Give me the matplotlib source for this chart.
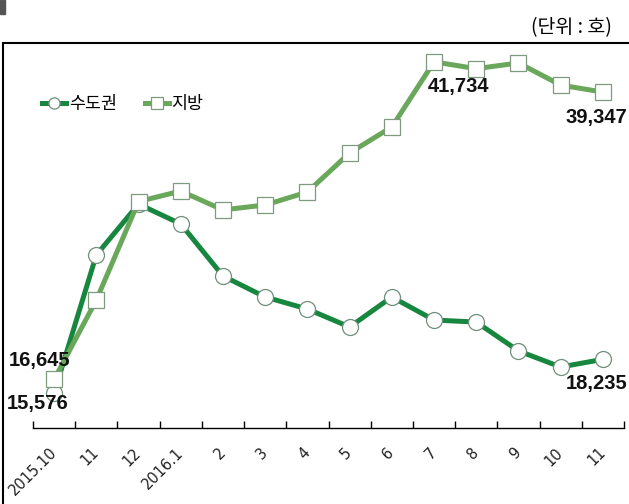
import matplotlib
matplotlib.use("Agg")
import matplotlib.pyplot as plt
from matplotlib.patches import Rectangle
from matplotlib.ticker import FixedLocator

plt.rcParams['font.family'] = ['Noto Sans CJK KR', 'DejaVu Sans']

months = ["2015.10", "11", "12", "2016.1", "2", "3", "4", "5", "6", "7", "8", "9", "10", "11"]
metro = [15576, 26480, 30500, 28930, 24820, 23160, 22210, 20790, 23160, 21340, 21180, 18900, 17630, 18235]
local = [16645, 22920, 30700, 31530, 30040, 30430, 31450, 34540, 36590, 41734, 41200, 41650, 39900, 39347]

x = list(range(len(months)))

fig = plt.figure(figsize=(6.29, 5.04), dpi=100)
ax = fig.add_axes([33/629, 76/504, 591/629, 385/504])

dark = "#17873f"
light = "#69a85a"

ax.plot(x, metro, color=dark, lw=3.6, marker="o", ms=11.5, mfc="white",
        mec="#6f8f7a", mew=0.9, label="수도권", zorder=3)
ax.plot(x, local, color=light, lw=3.6, marker="s", ms=11.5, mfc="white",
        mec="#7f9a7f", mew=0.9, label="지방", zorder=4)

ax.set_xlim(-0.5, 13.5)
ax.set_ylim(12811, 43226)

for s in ["left", "right", "top"]:
    ax.spines[s].set_visible(False)
ax.spines["bottom"].set_linewidth(1.0)
ax.set_yticks([])

ax.set_xticks(x)
ax.set_xticklabels(months, rotation=45, ha="right", va="center",
                   rotation_mode="anchor", fontsize=10.5, family="DejaVu Sans",
                   color="#222222")
ax.tick_params(axis="x", which="major", length=0, pad=16)
ax.xaxis.set_minor_locator(FixedLocator([i - 0.5 for i in range(len(months) + 1)]))
ax.tick_params(axis="x", which="minor", length=5, direction="in", width=1)

lbl = dict(textcoords="offset pixels", ha="center", va="center",
           fontsize=14.5, fontweight="bold", family="Liberation Sans", color="#111111",
           zorder=6)
ax.annotate(f"{local[0]:,}", (0, local[0]), xytext=(-15, 19), **lbl)
ax.annotate(f"{metro[0]:,}", (0, metro[0]), xytext=(-16, -10), **lbl)
ax.annotate(f"{local[9]:,}", (9, local[9]), xytext=(24, -25), **lbl)
ax.annotate(f"{local[-1]:,}", (13, local[-1]), xytext=(-7, -25), **lbl)
ax.annotate(f"{metro[-1]:,}", (13, metro[-1]), xytext=(-6, -24), **lbl)

ax.legend(loc="center left", bbox_to_anchor=(42/629, 1 - 104/504),
          bbox_transform=fig.transFigure, frameon=False, ncol=2,
          fontsize=12.5, markerscale=0.7, handlelength=1.4, handletextpad=0.15,
          columnspacing=1.6, borderpad=0, borderaxespad=0)

fig.text(612/629, 1 - 28/504, "(단위 : 호)", ha="right", va="center", fontsize=14)

# outer frame and small marker at top-left
fig.add_artist(Rectangle((3/629, -0.1), 1.2, 1 - 43/504 + 0.1,
                         transform=fig.transFigure, fill=False, lw=1.5,
                         ec="black", clip_on=False))
fig.add_artist(Rectangle((0, 1 - 14/504), 5/629, 14/504,
                         transform=fig.transFigure, color="#555555"))

fig.savefig("out.png", dpi=100)
